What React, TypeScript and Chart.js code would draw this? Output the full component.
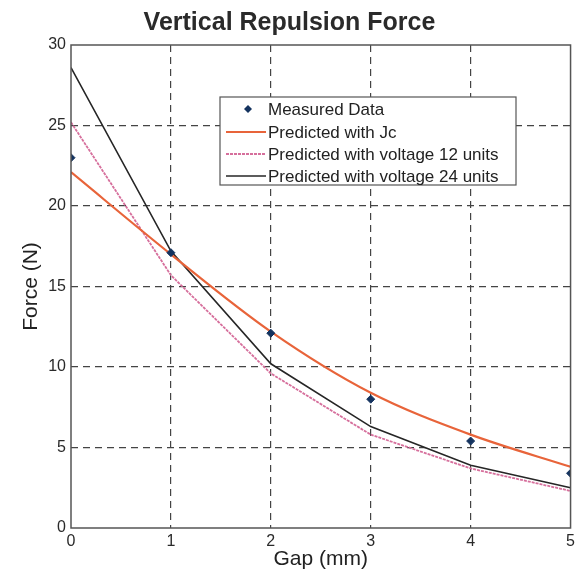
import React, { useEffect, useRef } from "react";
import { Chart, registerables } from "chart.js";

Chart.register(...registerables);

const gaps = [0, 1, 2, 3, 4, 5];
const measured = [23.0, 17.1, 12.1, 8.0, 5.4, 3.4];
const predictedJc = [22.1, 17.0, 12.2, 8.4, 5.8, 3.8];
const predicted12 = [25.2, 15.7, 9.6, 5.8, 3.7, 2.3];
const predicted24 = [28.6, 17.2, 10.2, 6.3, 3.9, 2.5];
const legendLabels = [
  "Measured Data",
  "Predicted with Jc",
  "Predicted with voltage 12 units",
  "Predicted with voltage 24 units",
];
const titleText = "Vertical Repulsion Force";
const xTitle = "Gap (mm)";
const yTitle = "Force (N)";
const xMin = 0, xMax = 5, yMin = 0, yMax = 30;

const FONT = "'Liberation Sans', Arial, sans-serif";

const colors = {
  measured: "#14335f",
  jc: "#e8643a",
  v12: "#d66f9c",
  v24: "#262626",
};

const toPts = (ys: number[]) => gaps.map((x, i) => ({ x, y: ys[i] }));

const decorPlugin = {
  id: "decor",
  afterDraw(chart: any) {
    const { ctx, chartArea } = chart;
    const { left, right, top, bottom } = chartArea;
    ctx.save();
    // frame
    ctx.strokeStyle = "#555";
    ctx.lineWidth = 1.5;
    ctx.setLineDash([]);
    ctx.strokeRect(left, top, right - left, bottom - top);
    // title
    ctx.fillStyle = "#2a2a2a";
    ctx.font = `bold 25px ${FONT}`;
    ctx.textAlign = "center";
    ctx.textBaseline = "middle";
    ctx.fillText(titleText, chart.width / 2, 23);
    // legend
    const bx = 220, by = 97, bw = 296, bh = 88;
    ctx.fillStyle = "#fff";
    ctx.fillRect(bx, by, bw, bh);
    ctx.strokeStyle = "#555";
    ctx.lineWidth = 1.2;
    ctx.strokeRect(bx, by, bw, bh);
    const rows = [109, 132, 154, 176];
    ctx.font = `17px ${FONT}`;
    ctx.textAlign = "left";
    ctx.textBaseline = "middle";
    chart.data.datasets.forEach((ds: any, i: number) => {
      const y = rows[i];
      if (i === 0) {
        ctx.fillStyle = colors.measured;
        ctx.beginPath();
        ctx.moveTo(248, y - 4);
        ctx.lineTo(252, y);
        ctx.lineTo(248, y + 4);
        ctx.lineTo(244, y);
        ctx.closePath();
        ctx.fill();
      } else {
        ctx.strokeStyle = ds.borderColor;
        ctx.lineWidth = ds.borderWidth;
        ctx.setLineDash(ds.borderDash || []);
        ctx.beginPath();
        ctx.moveTo(226, y);
        ctx.lineTo(266, y);
        ctx.stroke();
        ctx.setLineDash([]);
      }
      ctx.fillStyle = "#222";
      ctx.fillText(legendLabels[i], 268, y + 1);
    });
    ctx.restore();
  },
};

export default function App() {
  const ref = useRef<HTMLCanvasElement>(null);
  useEffect(() => {
    if (!ref.current) return;
    const gridColor = (edgeA: number, edgeB: number) => (c: any) =>
      c.tick && (c.tick.value === edgeA || c.tick.value === edgeB) ? "rgba(0,0,0,0)" : "#444";
    const chart = new Chart(ref.current, {
      type: "scatter",
      data: {
        datasets: [
          {
            label: legendLabels[0],
            data: toPts(measured),
            showLine: false,
            pointStyle: "rectRot",
            pointRadius: 4,
            backgroundColor: colors.measured,
            borderColor: colors.measured,
            borderWidth: 1,
          },
          {
            label: legendLabels[1],
            data: toPts(predictedJc),
            showLine: true,
            borderColor: colors.jc,
            backgroundColor: colors.jc,
            borderWidth: 2.2,
            pointRadius: 0,
            cubicInterpolationMode: "monotone",
          },
          {
            label: legendLabels[2],
            data: toPts(predicted12),
            showLine: true,
            borderColor: colors.v12,
            backgroundColor: colors.v12,
            borderWidth: 1.8,
            borderDash: [3, 1],
            pointRadius: 0,
          },
          {
            label: legendLabels[3],
            data: toPts(predicted24),
            showLine: true,
            borderColor: colors.v24,
            backgroundColor: colors.v24,
            borderWidth: 1.6,
            pointRadius: 0,
          },
        ] as any,
      },
      options: {
        animation: false,
        responsive: false,
        layout: { padding: { top: 45, right: 8, left: 0, bottom: 0 } },
        plugins: {
          legend: { display: false },
          title: { display: false },
          tooltip: { enabled: false },
        },
        scales: {
          x: {
            type: "linear",
            min: xMin,
            max: xMax,
            ticks: {
              stepSize: 1,
              color: "#2a2a2a",
              font: { size: 16, family: FONT },
              padding: 4,
              maxRotation: 0,
            },
            grid: { color: gridColor(xMin, xMax), drawTicks: false, lineWidth: 1.2 },
            border: { display: false, dash: [7, 5] },
            title: {
              display: true,
              text: xTitle,
              color: "#222",
              font: { size: 21, family: FONT },
              padding: { top: 3, bottom: 3 },
            },
            afterFit: (s: any) => {
              s.height = 47;
            },
          },
          y: {
            type: "linear",
            min: yMin,
            max: yMax,
            ticks: {
              stepSize: 5,
              color: "#2a2a2a",
              font: { size: 16, family: FONT },
              padding: 5,
            },
            grid: { color: gridColor(yMin, yMax), drawTicks: false, lineWidth: 1.2 },
            border: { display: false, dash: [7, 5] },
            title: {
              display: true,
              text: yTitle,
              color: "#222",
              font: { size: 21, family: FONT },
              padding: { top: 19, bottom: 19 },
            },
            afterFit: (s: any) => {
              s.width = 71;
            },
          },
        },
      } as any,
      plugins: [decorPlugin],
    });
    return () => chart.destroy();
  }, []);
  return (
    <div style={{ position: "absolute", left: 0, top: 0, width: 579, height: 575, background: "#fff" }}>
      <canvas ref={ref} width={579} height={575} style={{ display: "block" }} />
    </div>
  );
}
